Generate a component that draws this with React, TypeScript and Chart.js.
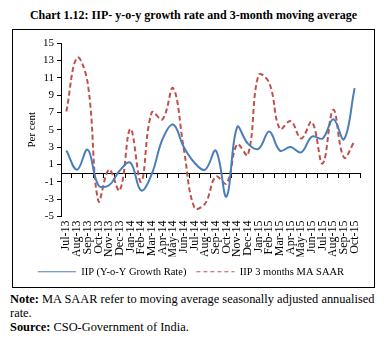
import React, { useEffect, useRef } from "react";
import { Chart, registerables } from "chart.js";

Chart.register(...registerables);

const months = [
  "Jul-13", "Aug-13", "Sep-13", "Oct-13", "Nov-13", "Dec-13", "Jan-14", "Feb-14",
  "Mar-14", "Apr-14", "May-14", "Jun-14", "Jul-14", "Aug-14", "Sep-14", "Oct-14",
  "Nov-14", "Dec-14", "Jan-15", "Feb-15", "Mar-15", "Apr-15", "May-15", "Jun-15",
  "Jul-15", "Aug-15", "Sep-15", "Oct-15",
];

const iipYoY = [
  2.6, 0.4, 2.7, -1.4, -1.4, 0.3, 1.2, -2.0,
  -0.1, 3.9, 5.6, 3.0, 1.2, 0.4, 2.6, -2.7,
  5.3, 3.4, 2.8, 4.8, 2.6, 3.0, 2.4, 4.2,
  4.0, 6.2, 3.9, 9.8,
];

const iipSaar = [
  7.1, 13.3, 10.4, -3.2, 0.4, -2.0, 5.1, -1.0,
  7.0, 6.2, 9.8, 2.8, -4.0, -3.5, -0.4, -1.2,
  3.3, 2.1, 11.3, 10.4, 5.1, 6.0, 4.0, 5.9,
  1.1, 7.3, 1.8, 3.7,
];

const seriesNames = ["IIP (Y-o-Y Growth Rate)", "IIP 3 months MA SAAR"];
const yMin = -5;
const yMax = 15;
const yStep = 2;

const FONT = "'Liberation Serif', 'Times New Roman', serif";

export default function App() {
  const ref = useRef<HTMLCanvasElement | null>(null);

  useEffect(() => {
    if (!ref.current) return;
    const chart = new Chart(ref.current, {
      type: "line",
      data: {
        labels: months,
        datasets: [
          {
            label: seriesNames[0],
            data: iipYoY,
            borderColor: "#4a7ebb",
            backgroundColor: "#4a7ebb",
            borderWidth: 2,
            pointRadius: 0,
            tension: 0.4,
            fill: false,
          },
          {
            label: seriesNames[1],
            data: iipSaar,
            borderColor: "#c0504d",
            backgroundColor: "#c0504d",
            borderWidth: 2,
            borderDash: [5, 3],
            pointRadius: 0,
            tension: 0.4,
            fill: false,
          },
        ],
      },
      options: {
        animation: false,
        responsive: false,
        maintainAspectRatio: false,
        layout: { padding: { left: 9, right: 14, top: 13, bottom: 0 } },
        plugins: {
          tooltip: { enabled: false },
          legend: {
            position: "bottom",
            labels: {
              color: "#000",
              font: { family: FONT, size: 10.5 },
              usePointStyle: true,
              pointStyleWidth: 38,
              padding: 10,
              generateLabels: (c: any) =>
                Chart.defaults.plugins.legend.labels.generateLabels(c).map((l: any, i: number) => ({
                  ...l,
                  pointStyle: "line",
                  lineWidth: 1,
                  lineDash: i === 1 ? [4, 3] : [],
                })),
            },
          },
        },
        scales: {
          x: {
            type: "category",
            position: "bottom",
            offset: true,
            grid: { display: false, drawTicks: false, tickLength: 0 },
            border: { display: false },
            ticks: {
              color: "#000",
              font: { family: FONT, size: 12 },
              autoSkip: false,
              maxRotation: 90,
              minRotation: 90,
              padding: 4,
            },
            afterFit: (scale: any) => {
              scale.height = 40;
            },
          },
          x0: {
            type: "category",
            axis: "x",
            position: { y: 0 },
            offset: true,
            grid: {
              offset: true,
              drawOnChartArea: false,
              drawTicks: true,
              tickLength: 4,
              color: "#000",
            },
            border: { display: true, color: "#000", width: 1 },
            ticks: { display: false },
          },
          y: {
            min: yMin,
            max: yMax,
            ticks: {
              stepSize: yStep,
              color: "#000",
              font: { family: FONT, size: 11 },
              padding: 3,
            },
            grid: {
              drawOnChartArea: false,
              drawTicks: true,
              tickLength: 4,
              color: "#000",
            },
            border: { display: true, color: "#000", width: 1 },
            title: {
              display: true,
              text: "Per cent",
              color: "#000",
              font: { family: FONT, size: 11 },
            },
            afterFit: (scale: any) => {
              scale.width = 39;
            },
          },
        },
      },
    });
    return () => chart.destroy();
  }, []);

  return (
    <div
      style={{
        position: "absolute",
        left: 0,
        top: 0,
        width: 387,
        height: 351,
        background: "#fff",
        fontFamily: FONT,
        color: "#000",
      }}
    >
      <div
        style={{
          position: "absolute",
          left: 0,
          top: 7,
          width: 387,
          textAlign: "center",
          fontWeight: "bold",
          fontSize: 12,
          lineHeight: "16px",
        }}
      >
        Chart 1.12: IIP- y-o-y growth rate and 3-month moving average
      </div>
      <div
        style={{
          position: "absolute",
          left: 12,
          top: 29,
          width: 361,
          height: 257,
          border: "1px solid #000",
        }}
      >
        <canvas ref={ref} width={361} height={257} style={{ display: "block" }} />
      </div>
      <div
        style={{
          position: "absolute",
          left: 10,
          top: 292,
          width: 377,
          fontSize: 12.4,
          lineHeight: "14px",
        }}
      >
        <b>Note:</b> MA SAAR refer to moving average seasonally adjusted annualised
        <br />
        rate.
        <br />
        <b>Source:</b> CSO-Government of India.
      </div>
    </div>
  );
}
